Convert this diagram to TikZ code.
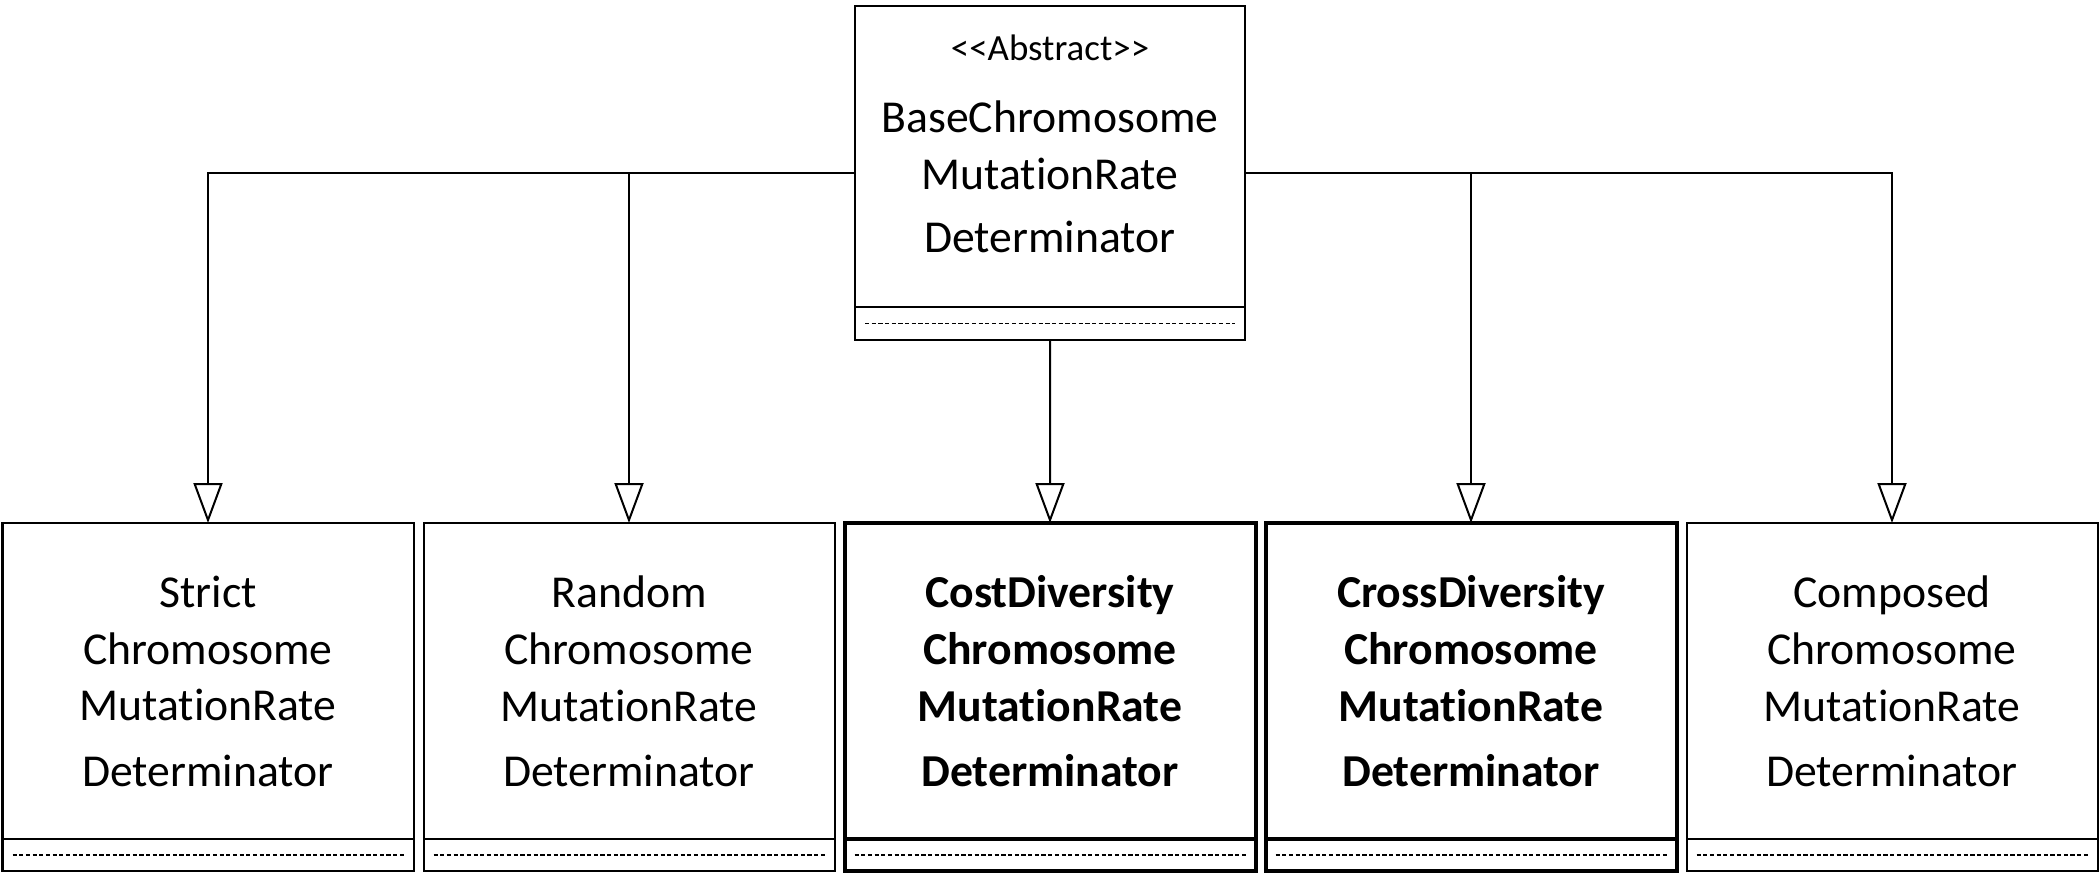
\documentclass[tikz,border=0pt]{standalone}
\usepackage{fontspec}
\setmainfont{Carlito}[Ligatures=NoCommon]
\usetikzlibrary{positioning,arrows.meta}

\begin{document}
\begin{tikzpicture}[
    every node/.style={outer sep=0pt},
    cls/.style={draw, line width=0.57pt, minimum width=4.11cm,
                minimum height=3.16cm, text width=3.9cm, align=center,
                inner sep=0pt, font=\fontsize{13}{16.2}\selectfont},
    ops/.style={draw, line width=0.57pt, minimum width=4.11cm,
                minimum height=0.32cm, inner sep=0pt,
                path picture={\draw[line width=0.45pt, dash pattern=on 1.2pt off 0.7pt]
                  ([xshift=0.1cm]path picture bounding box.west) --
                  ([xshift=-0.1cm]path picture bounding box.east);}},
    heavy/.style={line width=1.14pt},
    inherit/.style={draw, line width=0.57pt,
                    -{Triangle[open, length=0.4cm, width=0.29cm]}}
]
  \useasboundingbox (0,0) rectangle (21,-8.79);

  % Abstract base class
  \node[cls, minimum width=3.9cm, minimum height=3.01cm, text width=3.8cm]
      (base) at (10.5,-1.565)
      {{\fontsize{10.5}{12}\selectfont <{}<Abstract>{}>}\\[4.3pt]
       BaseChromosome\\MutationRate\\[1.7pt]
       Determinator\rule[-2.5mm]{0pt}{2.5mm}};
  \node[ops, minimum width=3.9cm, minimum height=0.33cm, below=0pt of base] (baseops) {};

  % Subclasses
  \node[cls] (strict) at (2.08,-6.81)
      {Strict\\Chromosome\\MutationRate\\[2.3pt]Determinator};
  \node[ops, below=0pt of strict] (strictops) {};

  \node[cls, right=0.1cm of strict] (random)
      {Random\\Chromosome\\MutationRate\\[2.3pt]Determinator};
  \node[ops, below=0pt of random] (randomops) {};

  \node[cls, heavy, font=\fontsize{13}{16.2}\selectfont\bfseries, right=0.1cm of random] (cost)
      {CostDiversity\\Chromosome\\MutationRate\\[2.3pt]Determinator};
  \node[ops, heavy, below=0pt of cost] (costops) {};

  \node[cls, heavy, font=\fontsize{13}{16.2}\selectfont\bfseries, right=0.1cm of cost] (cross)
      {CrossDiversity\\Chromosome\\MutationRate\\[2.3pt]Determinator};
  \node[ops, heavy, below=0pt of cross] (crossops) {};

  \node[cls, right=0.1cm of cross] (composed)
      {Composed\\Chromosome\\MutationRate\\[2.3pt]Determinator};
  \node[ops, below=0pt of composed] (composedops) {};

  % Generalization arrows
  \coordinate (lbus) at ([yshift=-0.165cm]base.west);
  \coordinate (rbus) at ([yshift=-0.165cm]base.east);
  \draw[inherit] (lbus) -| (strict.north);
  \draw[inherit] (lbus -| random.north) -- (random.north);
  \draw[inherit] (baseops.south) -- (cost.north);
  \draw[inherit] (rbus -| cross.north) -- (cross.north);
  \draw[inherit] (rbus) -| (composed.north);
\end{tikzpicture}
\end{document}
